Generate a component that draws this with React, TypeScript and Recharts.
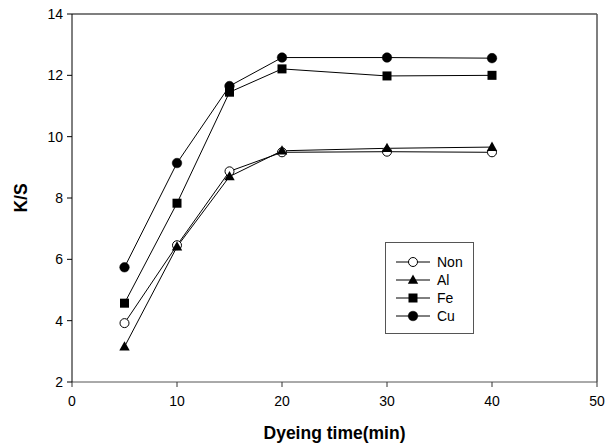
import React from 'react';
import { LineChart, Line, XAxis, YAxis, ReferenceLine, Label } from 'recharts';

const times = [5, 10, 15, 20, 30, 40];
const nonVals = [3.92, 6.46, 8.87, 9.49, 9.51, 9.49];
const alVals = [3.15, 6.41, 8.7, 9.54, 9.62, 9.66];
const feVals = [4.57, 7.83, 11.45, 12.21, 11.98, 12.0];
const cuVals = [5.74, 9.14, 11.65, 12.58, 12.58, 12.56];
const xTicks = [0, 10, 20, 30, 40, 50];
const yTicks = [2, 4, 6, 8, 10, 12, 14];

const data = times.map((t, i) => ({ t, Non: nonVals[i], Al: alVals[i], Fe: feVals[i], Cu: cuVals[i] }));

const FONT = 'Liberation Sans, Arial, sans-serif';

type Shape = 'openCircle' | 'triangle' | 'square' | 'circle';

const Marker = ({ cx, cy, shape }: { cx: number; cy: number; shape: Shape }) => {
  if (cx == null || cy == null) return null;
  switch (shape) {
    case 'openCircle':
      return <circle cx={cx} cy={cy} r={4.5} fill="#fff" stroke="#000" strokeWidth={1} />;
    case 'circle':
      return <circle cx={cx} cy={cy} r={4.8} fill="#000" stroke="#000" strokeWidth={0.5} />;
    case 'square':
      return <rect x={cx - 4.5} y={cy - 4.5} width={9} height={9} fill="#000" />;
    case 'triangle':
      return <polygon points={`${cx},${cy - 5.5} ${cx + 5.2},${cy + 3.8} ${cx - 5.2},${cy + 3.8}`} fill="#000" />;
  }
  return null;
};

const series: { key: string; shape: Shape }[] = [
  { key: 'Non', shape: 'openCircle' },
  { key: 'Al', shape: 'triangle' },
  { key: 'Fe', shape: 'square' },
  { key: 'Cu', shape: 'circle' },
];

const LegendBox = () => (
  <div
    style={{
      position: 'absolute',
      left: 385,
      top: 242,
      border: '1px solid #555',
      width: 89,
      height: 92,
      boxSizing: 'border-box',
      background: '#fff',
      paddingTop: 10,
      fontFamily: FONT,
      fontSize: 14,
    }}
  >
    {series.map((s) => (
      <div key={s.key} style={{ display: 'flex', alignItems: 'center', height: 18 }}>
        <svg width={48} height={18} style={{ display: 'block' }}>
          <line x1={10} y1={9} x2={44} y2={9} stroke="#000" strokeWidth={1} />
          <Marker cx={27} cy={9} shape={s.shape} />
        </svg>
        <span style={{ marginLeft: 3, color: '#000' }}>{s.key}</span>
      </div>
    ))}
  </div>
);

export default function App() {
  return (
    <div style={{ position: 'absolute', left: 0, top: 0, width: 606, height: 445, background: '#fff' }}>
      <LineChart width={606} height={445} data={data} margin={{ top: 14, right: 9, bottom: 0, left: 22 }}>
        <XAxis
          dataKey="t"
          type="number"
          domain={[0, 50]}
          ticks={xTicks}
          height={63}
          tickSize={5}
          stroke="#555"
          tick={{ fill: '#000', fontSize: 14, fontFamily: FONT }}
          tickLine={{ stroke: '#333' }}
          tickMargin={9}
        >
          <Label
            value="Dyeing time(min)"
            position="insideBottom"
            offset={6}
            style={{ fontWeight: 'bold', fontSize: 17.5, fontFamily: FONT, fill: '#000' }}
          />
        </XAxis>
        <YAxis
          type="number"
          domain={[2, 14]}
          ticks={yTicks}
          width={50}
          tickSize={5}
          stroke="#000"
          tick={{ fill: '#000', fontSize: 14, fontFamily: FONT }}
          tickMargin={4}
        >
          <Label
            value="K/S"
            angle={-90}
            position="insideLeft"
            offset={-1}
            style={{ fontWeight: 'bold', fontSize: 17.5, fontFamily: FONT, fill: '#000', textAnchor: 'middle' }}
          />
        </YAxis>
        <ReferenceLine y={14} stroke="#555" strokeWidth={1.5} />
        <ReferenceLine x={50} stroke="#555" strokeWidth={1.5} />
        {series.map((s) => (
          <Line
            key={s.key}
            dataKey={s.key}
            stroke="#000"
            strokeWidth={1}
            isAnimationActive={false}
            dot={(p: any) => <Marker key={`${s.key}-${p.index}`} cx={p.cx} cy={p.cy} shape={s.shape} />}
            activeDot={false}
          />
        ))}
      </LineChart>
      <LegendBox />
    </div>
  );
}
